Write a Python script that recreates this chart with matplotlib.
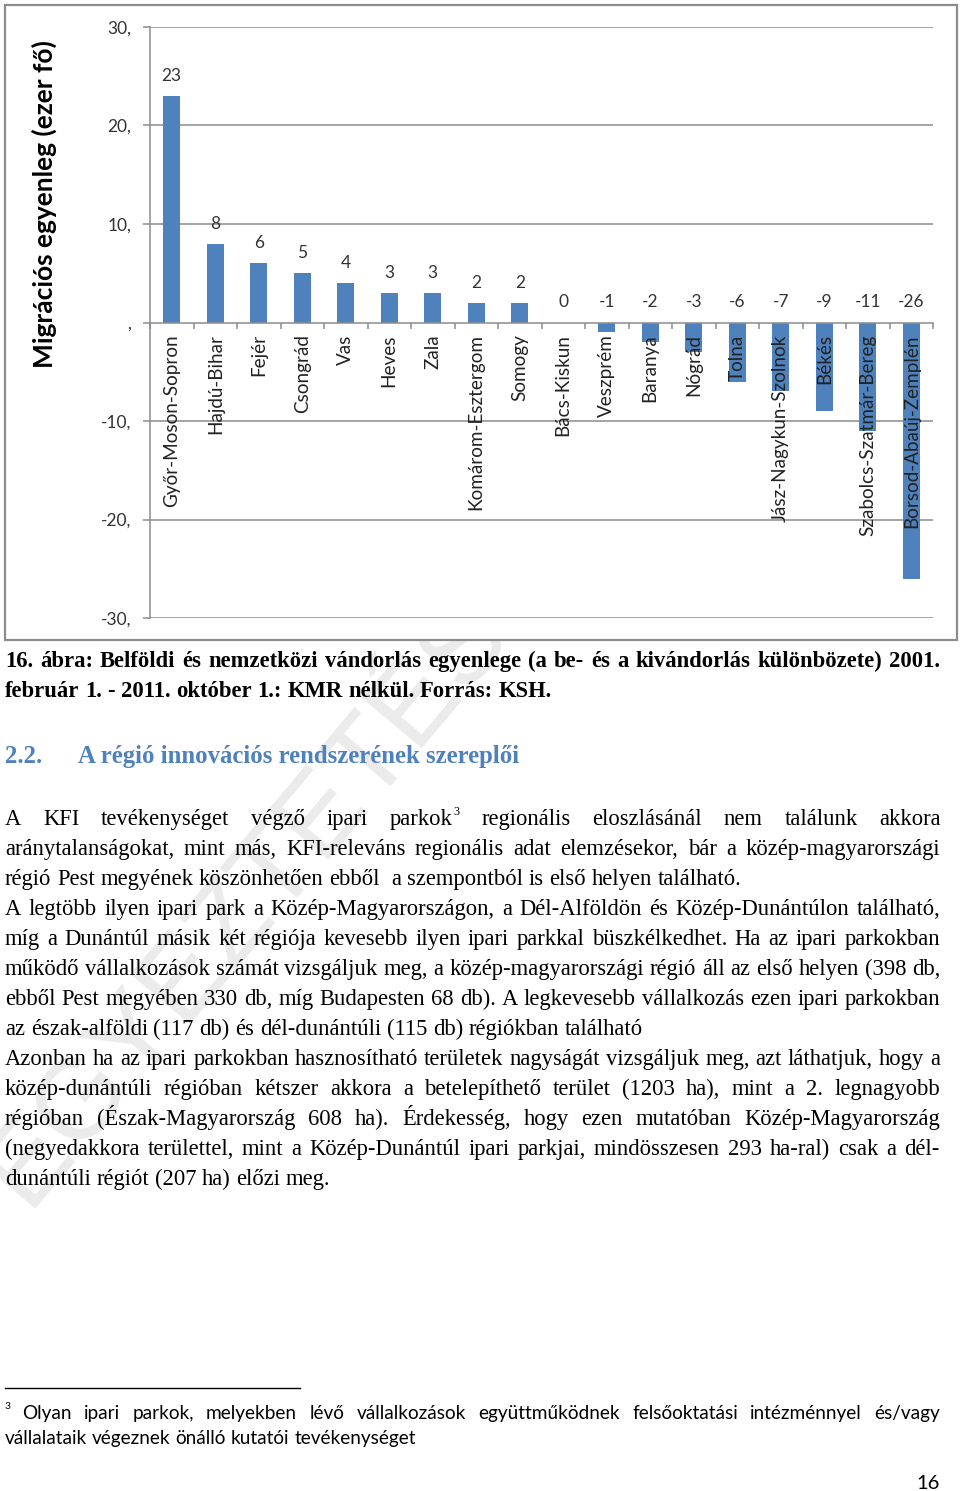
import numpy as np
import matplotlib
matplotlib.use("Agg")
import matplotlib.pyplot as plt
from matplotlib.patches import Rectangle

# Data
counties = ["Győr-Moson-Sopron", "Hajdú-Bihar", "Fejér", "Csongrád", "Vas", "Heves",
            "Zala", "Komárom-Esztergom", "Somogy", "Bács-Kiskun", "Veszprém", "Baranya",
            "Nógrád", "Tolna", "Jász-Nagykun-Szolnok", "Békés", "Szabolcs-Szatmár-Bereg",
            "Borsod-Abaúj-Zemplén"]
balance = [23, 8, 6, 5, 4, 3, 3, 2, 2, 0, -1, -2, -3, -6, -7, -9, -11, -26]
y_ticks = [-30, -20, -10, 0, 10, 20, 30]
y_tick_labels = ["-30,", "-20,", "-10,", ",", "10,", "20,", "30,"]

caption = ["16. ábra: Belföldi és nemzetközi vándorlás egyenlege (a be- és a kivándorlás különbözete) 2001.",
           "február 1. - 2011. október 1.: KMR nélkül. Forrás: KSH."]
heading_num = "2.2."
heading = "A régió innovációs rendszerének szereplői"
body = [
    ("A KFI tevékenységet végző ipari parkok^3 regionális eloszlásánál nem találunk akkora", True),
    ("aránytalanságokat, mint más, KFI-releváns regionális adat elemzésekor, bár a közép-magyarországi", True),
    ("régió Pest megyének köszönhetően ebből  a szempontból is első helyen található.", False),
    ("A legtöbb ilyen ipari park a Közép-Magyarországon, a Dél-Alföldön és Közép-Dunántúlon található,", True),
    ("míg a Dunántúl másik két régiója kevesebb ilyen ipari parkkal büszkélkedhet. Ha az ipari parkokban", True),
    ("működő vállalkozások számát vizsgáljuk meg, a közép-magyarországi régió áll az első helyen (398 db,", True),
    ("ebből Pest megyében 330 db, míg Budapesten 68 db). A legkevesebb vállalkozás ezen ipari parkokban", True),
    ("az észak-alföldi (117 db) és dél-dunántúli (115 db) régiókban található", False),
    ("Azonban ha az ipari parkokban hasznosítható területek nagyságát vizsgáljuk meg, azt láthatjuk, hogy a", True),
    ("közép-dunántúli régióban kétszer akkora a betelepíthető terület (1203 ha), mint a 2. legnagyobb", True),
    ("régióban (Észak-Magyarország 608 ha). Érdekesség, hogy ezen mutatóban Közép-Magyarország", True),
    ("(negyedakkora területtel, mint a Közép-Dunántúl ipari parkjai, mindösszesen 293 ha-ral) csak a dél-", True),
    ("dunántúli régiót (207 ha) előzi meg.", False),
]
footnote = [("Olyan ipari parkok, melyekben lévő vállalkozások együttműködnek felsőoktatási intézménnyel és/vagy", True),
            ("vállalataik végeznek önálló kutatói tevékenységet", False)]

W, H = 960, 1491
fig = plt.figure(figsize=(W / 100, H / 100), dpi=100)
fig.patch.set_facecolor("white")

# page layer in pixel coordinates
page = fig.add_axes([0, 0, 1, 1])
page.set_xlim(0, W)
page.set_ylim(H, 0)
page.axis("off")
renderer = fig.canvas.get_renderer()

# watermark (covered by the chart frame)
page.text(30, 1215, "EGYEZTETÉSI VÁLTOZAT", fontsize=82, family="Liberation Sans",
          color="#ebebeb", rotation=50, rotation_mode="anchor", ha="left", va="baseline", zorder=0)
page.add_patch(Rectangle((5, 5), 952, 635, facecolor="white", edgecolor="#8c8c8c", lw=1.6, zorder=1))


def width_of(t):
    return t.get_window_extent(renderer).width


def put_line(line, y, x0, x1, justify, sup_dy=-9, **kw):
    words = line.split(" ")
    items = []
    for w in words:
        sup = w.endswith("^3")
        w0 = w[:-2] if sup else w
        t = page.text(0, y, w0, ha="left", va="baseline", zorder=2, **kw)
        wd = width_of(t) if w0 else 0
        s = None
        wd_s = 0
        if sup:
            s = page.text(0, y + sup_dy, "3", ha="left", va="baseline", zorder=2,
                          family=kw.get("family"), fontsize=kw["fontsize"] * 0.55, color="black")
            wd_s = width_of(s)
        items.append((t, wd, s, wd_s))
    a = page.text(0, y, "a a", **kw)
    b = page.text(0, y, "aa", **kw)
    space = width_of(a) - width_of(b)
    a.remove()
    b.remove()
    total = sum(i[1] + i[3] for i in items)
    gap = (x1 - x0 - total) / (len(items) - 1) if justify and len(items) > 1 else space
    x = x0
    for t, wd, s, wd_s in items:
        t.set_x(x)
        x += wd
        if s is not None:
            s.set_x(x + 1)
            x += wd_s + 1
        x += gap


serif = dict(family="Liberation Serif", fontsize=16.3, color="black")

# caption
put_line(caption[0], 667, 5, 940, True, family="Liberation Serif", fontsize=16.3,
         fontweight="bold", color="black")
put_line(caption[1], 697, 5, 940, False, family="Liberation Serif", fontsize=16.3,
         fontweight="bold", color="black")

# heading
page.text(5, 763, heading_num, family="Liberation Serif", fontsize=17.8, fontweight="bold",
          color="#4f81bd", va="baseline")
page.text(78, 763, heading, family="Liberation Serif", fontsize=17.8, fontweight="bold",
          color="#4f81bd", va="baseline")

# body text
for k, (line, just) in enumerate(body):
    put_line(line, 825 + 30 * k, 5, 940, just, sup_dy=-10, **serif)

# footnote
page.plot([5, 300], [1388, 1388], color="black", lw=1)
page.text(5, 1409, "3", family="Lato", fontsize=7.5, va="baseline")
put_line(footnote[0][0], 1419, 22, 940, True, family="Lato", fontsize=13.7, color="black")
put_line(footnote[1][0], 1444, 5, 940, False, family="Lato", fontsize=13.7, color="black")

page.text(940, 1489, "16", family="Lato", fontsize=14.5, ha="right", va="baseline")

# chart
left, right, top, bottom = 150, 933, 27, 618
ax = fig.add_axes([left / W, 1 - bottom / H, (right - left) / W, (bottom - top) / H])
ax.patch.set_alpha(0)
for s in ["top", "right"]:
    ax.spines[s].set_visible(False)
ax.spines["bottom"].set_position(("data", 0))
ax.spines["bottom"].set_color("#8c8c8c")
ax.spines["left"].set_color("#8c8c8c")
ax.spines["bottom"].set_linewidth(1.1)
ax.spines["left"].set_linewidth(1.1)

x = np.arange(len(counties))
ax.bar(x, balance, width=0.39, color="#4f81bd", zorder=1)
for yv in y_ticks:
    if yv != 0:
        ax.axhline(yv, color="#8c8c8c", lw=1.1, zorder=0.5)
ax.set_xlim(-0.5, len(counties) - 0.5)
ax.set_ylim(-30, 30)
ax.set_yticks(y_ticks)
ax.set_yticklabels(y_tick_labels, family="Lato", fontsize=12.5, color="#333333")
ax.tick_params(axis="y", length=5, color="#8c8c8c", width=1.1, pad=8.5)
ax.set_xticks(x)
ax.set_xticklabels(counties, rotation=90, family="Lato", fontsize=13.6, color="#222222", va="top")
ax.set_xticks(np.arange(-0.5, len(counties)), minor=True)
ax.tick_params(axis="x", which="major", length=0, pad=8.5)
ax.tick_params(axis="x", which="minor", length=4.5, color="#8c8c8c", width=1.1)

for xi, v in zip(x, balance):
    ax.annotate(f"{v:.0f}", (xi, max(v, 0)), xytext=(0, 14.5), textcoords="offset points",
                ha="center", va="center", family="Lato", fontsize=12.5, color="#333333")

ax.set_ylabel("Migrációs egyenleg (ezer fő)", family="Lato", fontsize=19, fontweight="bold")
ax.yaxis.set_label_coords((57 - left) / (right - left), (bottom - 204) / (bottom - top))

fig.savefig("out.png", dpi=100)
